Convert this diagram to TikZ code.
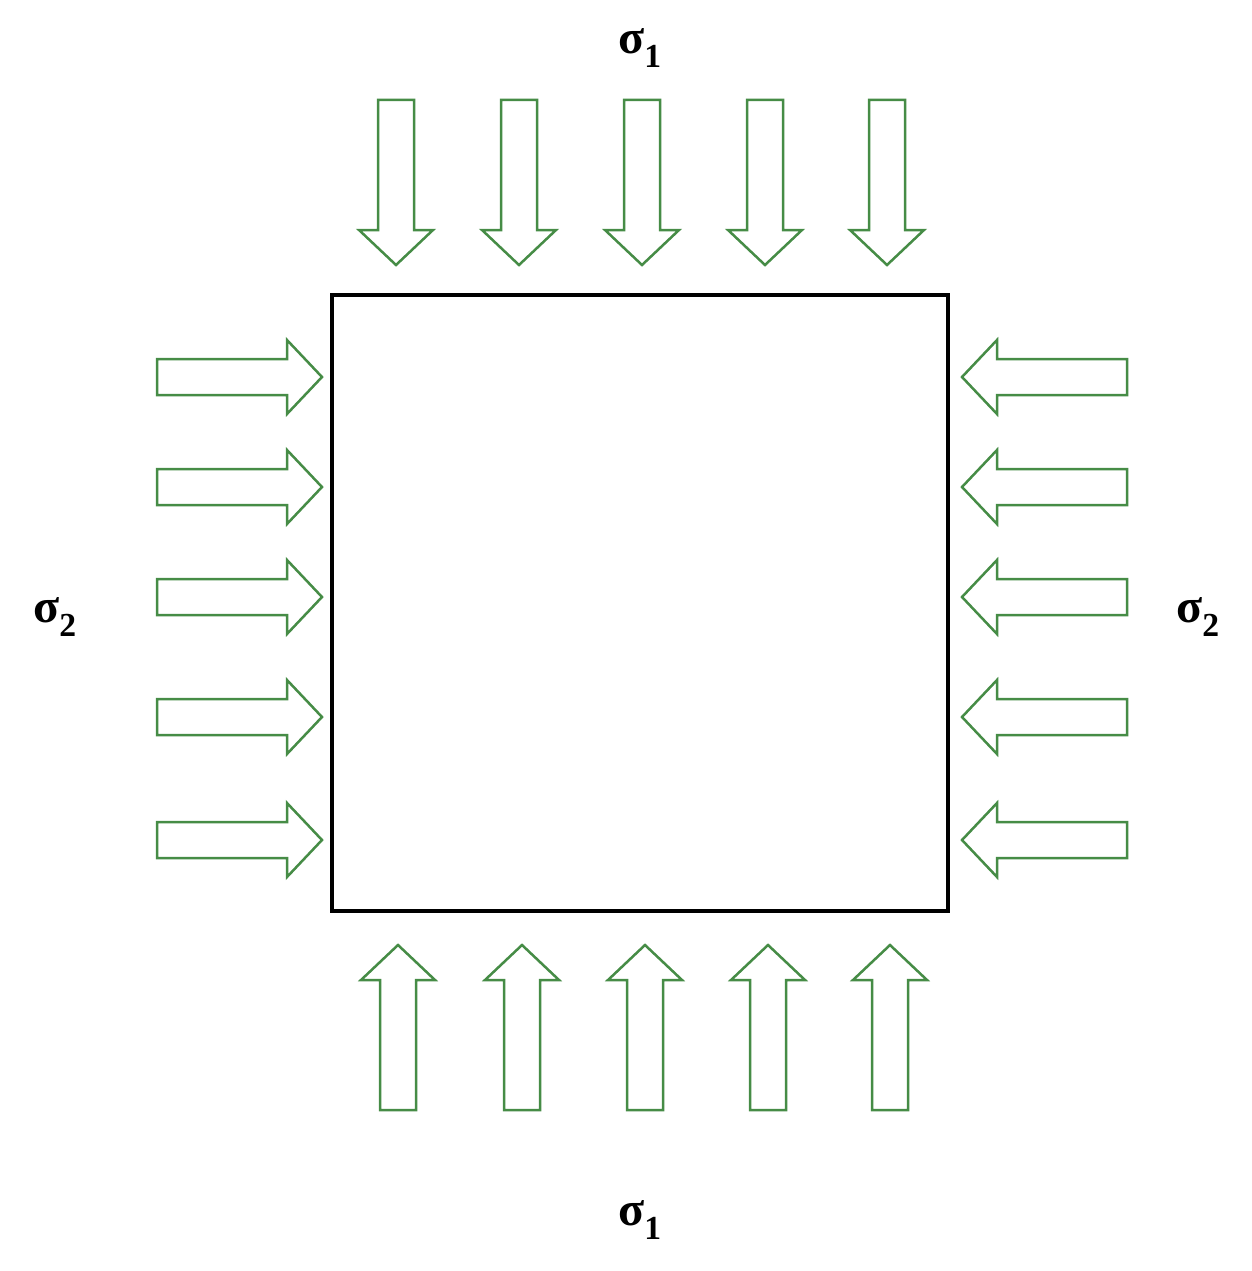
\documentclass[tikz,border=0pt]{standalone}
\usepackage{fontspec}
\setmainfont{Liberation Serif}
\definecolor{arr}{RGB}{70,140,70}
\begin{document}
\begin{tikzpicture}[x=1pt,y=-1pt,
  blk/.pic={\draw[arr,line width=2.5pt,line join=miter,fill=white]
    (-165,-18) -- (-35,-18) -- (-35,-37) -- (0,0) -- (-35,37) -- (-35,18) -- (-165,18) -- cycle;},
  lbl/.style={font=\bfseries\fontsize{48}{50}\selectfont,inner sep=0pt}]
\useasboundingbox (0,0) rectangle (1252,1271);
\draw[line width=4pt] (332,295) rectangle (948,911);
\foreach \x in {396,519,642,765,887} \pic[rotate=-90] at (\x,265) {blk};
\foreach \x in {398,522,645,768,890} \pic[rotate=90] at (\x,945) {blk};
\foreach \y in {377,487,597,717,840} {\pic at (322,\y) {blk}; \pic[rotate=180] at (962,\y) {blk};}
\node[lbl] (t) at (640,48) {σ$_{\mathbf 1}$};
\node[lbl] (b) at (640,1220) {σ$_{\mathbf 1}$};
\node[lbl] (l) at (55,617) {σ$_{\mathbf 2}$};
\node[lbl] (r) at (1198,617) {σ$_{\mathbf 2}$};
\end{tikzpicture}
\end{document}
